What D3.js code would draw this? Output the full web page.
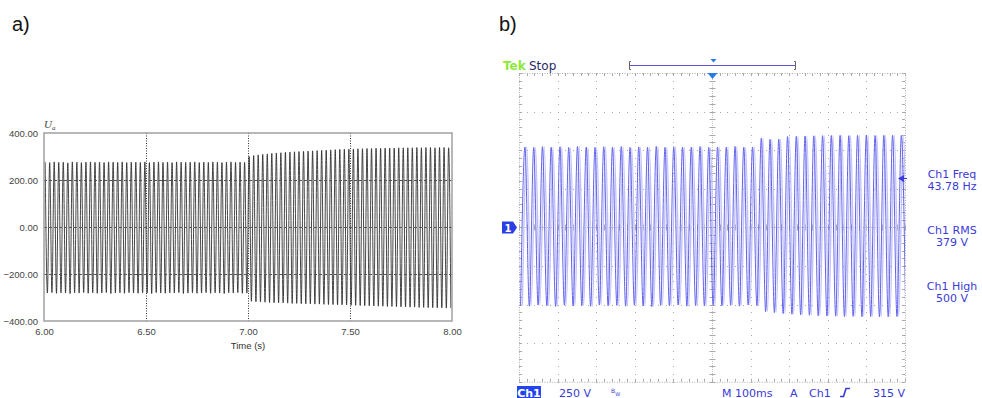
<!DOCTYPE html>
<html><head><meta charset="utf-8">
<script src="https://cdn.jsdelivr.net/npm/d3@7"></script>
<style>body{margin:0;background:#fff}svg{display:block}</style>
</head><body>
<svg id="c" width="982" height="398"></svg>
<script>
// ---------- DATA: panel a) simulated U_a ----------
const leftTimeTicks = [6.00, 6.50, 7.00, 7.50, 8.00];
const leftValueTicks = [-400, -200, 0, 200, 400];
const leftGridTimes = [6.50, 7.00, 7.50];
const leftGridValues = [-200, 0, 200];
const leftFreqHz = 45;
const leftStart = 6.0;
// positive peak of each cycle (V)
const leftPosPeaks = [
 276,274,277,275,276,273,277,276,274,276,
 277,275,276,274,277,276,275,277,274,276,
 276,275,277,274,276,277,275,276,274,277,
 276,275,276,277,274,276,275,277,276,274,
 276,277,275,276,275,
 300,304,307,309,311,313,315,316,318,319,
 320,321,322,323,324,325,326,327,328,329,
 330,331,331,332,333,333,334,334,335,335,
 336,336,336,337,337,337,337,338,337,338,
 338,337,338,338,337];
// negative peak of each cycle (V)
const leftNegPeaks = [
 -281,-279,-282,-280,-281,-283,-280,-281,-279,-282,
 -280,-282,-281,-279,-283,-281,-280,-282,-279,-281,
 -282,-280,-281,-283,-279,-281,-282,-280,-281,-279,
 -283,-281,-280,-282,-281,-279,-282,-280,-281,-283,
 -280,-281,-279,-282,-281,
 -316,-318,-319,-320,-321,-322,-323,-323,-324,-325,
 -325,-326,-327,-327,-328,-328,-329,-330,-330,-331,
 -331,-332,-333,-333,-334,-335,-335,-336,-337,-337,
 -338,-338,-339,-340,-340,-341,-341,-342,-342,-343,
 -343,-344,-344,-345,-345];

// ---------- DATA: panel b) oscilloscope ----------
const scopeTimeRangeMs = [-500, 500];   // 100 ms/div, 10 div
const scopeVoltRange = [-1000, 1000];   // 250 V/div, 8 div
const scopeFreqHz = 44.1;
const scopeStartMs = -495.9;
const scopeNegPeaks = [
 -506,-510,-503,-508,-512,-504,-509,-506,-511,-503,
 -508,-505,-510,-504,-509,-512,-505,-507,-503,-510,
 -506,-509,-504,-508,-505,-510,-503,-507,
 -545,-552,-558,-562,-566,-569,-572,-574,-575,-577,
 -576,-578,-577,-579,-578,-577,-578];
const scopePosPeaks = [
 521,518,523,519,522,517,524,520,518,522,
 520,523,517,521,519,524,518,522,520,519,
 523,518,521,520,524,519,521,
 577,570,571,588,590,592,593,594,595,596,
 594,596,597,595,596,597,596];
const scopeReadouts = [["Ch1 Freq","43.78 Hz"],["Ch1 RMS","379 V"],["Ch1 High","500 V"]];
const scopeBottomLabels = [
 {t:"250 V", x:559}, {t:"M 100ms", x:722}, {t:"A", x:790}, {t:"Ch1", x:809}, {t:"315 V", x:873}];

// ---------- DRAW ----------
const svg = d3.select("#c");

// panel labels
svg.append("text").attr("x",12).attr("y",31).text("a)")
  .attr("font-family","Liberation Sans, Arial").attr("font-size",20).attr("fill","#111");
svg.append("text").attr("x",499).attr("y",31).text("b)")
  .attr("font-family","Liberation Sans, Arial").attr("font-size",20).attr("fill","#111");

// ---- panel a ----
const L = {x0:44, x1:452, y0:133, y1:321};
const xL = d3.scaleLinear().domain([6,8]).range([L.x0, L.x1]);
const yL = d3.scaleLinear().domain([-400,400]).range([L.y1, L.y0]);

svg.append("clipPath").attr("id","clipL").append("rect")
  .attr("x",L.x0).attr("y",L.y0).attr("width",L.x1-L.x0).attr("height",L.y1-L.y0);

const leftSeries = [];
leftPosPeaks.forEach((p,i)=>{
  const per = 1/leftFreqHz;
  leftSeries.push({t:leftStart + i*per + per*0.25, v:p});
  leftSeries.push({t:leftStart + i*per + per*0.75, v:leftNegPeaks[i]});
});
const lineL = d3.line().x(d=>xL(d.t)).y(d=>yL(d.v)).curve(d3.curveMonotoneX);
svg.append("g").attr("clip-path","url(#clipL)")
  .append("path").datum(leftSeries).attr("d",lineL)
  .attr("fill","none").attr("stroke","#262626").attr("stroke-width",0.85);

// grid
const gL = svg.append("g");
gL.selectAll("line.v").data(leftGridTimes).join("line")
  .attr("x1",d=>xL(d)+0.5).attr("x2",d=>xL(d)+0.5).attr("y1",L.y0).attr("y2",L.y1)
  .attr("stroke","#333").attr("stroke-width",1).attr("stroke-dasharray","1,1.5");
gL.selectAll("line.h").data(leftGridValues).join("line")
  .attr("y1",d=>yL(d)+0.5).attr("y2",d=>yL(d)+0.5).attr("x1",L.x0).attr("x2",L.x1)
  .attr("stroke","#555").attr("stroke-width",1).attr("stroke-dasharray","3,2");
// frame
svg.append("rect").attr("x",L.x0).attr("y",L.y0).attr("width",L.x1-L.x0).attr("height",L.y1-L.y0)
  .attr("fill","none").attr("stroke","#a0a0a0").attr("stroke-width",1.5);

// axes via d3 axes (no tick lines)
const axL = svg.append("g").attr("transform",`translate(${L.x0},0)`)
  .call(d3.axisLeft(yL).tickValues(leftValueTicks).tickFormat(d3.format(".2f")).tickSize(0).tickPadding(6));
const axB = svg.append("g").attr("transform",`translate(0,${L.y1})`)
  .call(d3.axisBottom(xL).tickValues(leftTimeTicks).tickFormat(d3.format(".2f")).tickSize(0).tickPadding(7));
[axL,axB].forEach(a=>{
  a.select(".domain").remove();
  a.selectAll("text").attr("font-family","Liberation Sans, Arial").attr("font-size",9.5).attr("fill","#444");
});
svg.append("text").attr("x",248).attr("y",349).attr("text-anchor","middle").text("Time (s)")
  .attr("font-family","Liberation Sans, Arial").attr("font-size",9.5).attr("fill","#333");
const ua = svg.append("text").attr("x",44).attr("y",128)
  .attr("font-family","Liberation Serif, serif").attr("font-style","italic").attr("fill","#444");
ua.append("tspan").attr("font-size",11).text("U");
ua.append("tspan").attr("font-size",7).attr("dy",2).text("a");

// ---- panel b ----
const S = {x0:519, x1:905, y0:73, y1:381.8};
const xS = d3.scaleLinear().domain(scopeTimeRangeMs).range([S.x0, S.x1]);
const yS = d3.scaleLinear().domain(scopeVoltRange).range([S.y1, S.y0]);
const div = (S.x1-S.x0)/10, minor = div/5;
const gridCol = "#a8a8a8";
const gS = svg.append("g");

// major grid dots
for (let i=1;i<10;i++){ if(i===5) continue;
  const x = Math.round(S.x0 + i*div);
  for (let j=0;j<=40;j++){ gS.append("rect").attr("x",x).attr("y",Math.round(S.y0+j*minor)).attr("width",1).attr("height",1).attr("fill",gridCol); }
}
for (let j=1;j<8;j++){ if(j===4) continue;
  const y = Math.round(S.y0 + j*div);
  for (let i=0;i<=50;i++){ gS.append("rect").attr("x",Math.round(S.x0+i*minor)).attr("y",y).attr("width",1).attr("height",1).attr("fill",gridCol); }
}
// center lines
const cx = Math.round(xS(0))+0.5, cy = Math.round(yS(0))+0.5;
gS.append("line").attr("x1",S.x0).attr("x2",S.x1).attr("y1",cy).attr("y2",cy)
  .attr("stroke","#c4c4c4").attr("stroke-dasharray","1,1");
gS.append("line").attr("x1",cx).attr("x2",cx).attr("y1",S.y0).attr("y2",S.y1)
  .attr("stroke","#c4c4c4").attr("stroke-dasharray","1,1");
for (let i=0;i<=50;i++){ const x=Math.round(S.x0+i*minor)+0.5;
  gS.append("line").attr("x1",x).attr("x2",x).attr("y1",cy-3).attr("y2",cy+3).attr("stroke","#aaa");
  gS.append("line").attr("x1",x).attr("x2",x).attr("y1",S.y0).attr("y2",S.y0+3).attr("stroke","#aaa");
  gS.append("line").attr("x1",x).attr("x2",x).attr("y1",S.y1-3).attr("y2",S.y1).attr("stroke","#aaa");
}
for (let j=0;j<=40;j++){ const y=Math.round(S.y0+j*minor)+0.5;
  gS.append("line").attr("y1",y).attr("y2",y).attr("x1",cx-3).attr("x2",cx+3).attr("stroke","#aaa");
  gS.append("line").attr("y1",y).attr("y2",y).attr("x1",S.x0).attr("x2",S.x0+3).attr("stroke","#aaa");
  gS.append("line").attr("y1",y).attr("y2",y).attr("x1",S.x1-3).attr("x2",S.x1).attr("stroke","#aaa");
}
// border dotted
gS.append("rect").attr("x",S.x0+0.5).attr("y",S.y0+0.5).attr("width",S.x1-S.x0).attr("height",S.y1-S.y0)
  .attr("fill","none").attr("stroke","#b0b0b0").attr("stroke-dasharray","1,1.5");

// waveform
svg.append("clipPath").attr("id","clipS").append("rect")
  .attr("x",S.x0).attr("y",S.y0).attr("width",S.x1-S.x0).attr("height",S.y1-S.y0);
const halfMs = 1000/scopeFreqHz/2;
const scopeSeries = [];
scopeNegPeaks.forEach((n,i)=>{
  scopeSeries.push({t:scopeStartMs + (2*i)*halfMs, v:n});
  if (i < scopePosPeaks.length) scopeSeries.push({t:scopeStartMs + (2*i+1)*halfMs, v:scopePosPeaks[i]});
});
const lineS = d3.line().x(d=>xS(d.t)).y(d=>yS(d.v)).curve(d3.curveMonotoneX);
const gW = svg.append("g").attr("clip-path","url(#clipS)");
gW.append("path").datum(scopeSeries).attr("d",lineS).attr("transform","translate(1.8,0)")
  .attr("fill","none").attr("stroke","#c2c2f8").attr("stroke-width",1.4);
gW.append("path").datum(scopeSeries).attr("d",lineS)
  .attr("fill","none").attr("stroke","#6262ee").attr("stroke-width",1);

const blue = "#3a3ad8";
const monoF = "DejaVu Sans, Verdana, sans-serif";
// top header
svg.append("text").attr("x",503).attr("y",70).text("Tek").attr("font-family",monoF)
  .attr("font-size",12).attr("font-weight","bold").attr("fill","#8ee83a");
svg.append("text").attr("x",529).attr("y",70).text("Stop").attr("font-family",monoF)
  .attr("font-size",12).attr("fill","#2a2a6a");
svg.append("line").attr("x1",629).attr("x2",796).attr("y1",65.5).attr("y2",65.5).attr("stroke","#5a5ad8").attr("stroke-width",1.2);
svg.append("path").attr("d","M631,61.5 L629.5,61.5 L629.5,69.5 L631,69.5").attr("fill","none").attr("stroke","#666");
svg.append("path").attr("d","M794,61.5 L795.5,61.5 L795.5,69.5 L794,69.5").attr("fill","none").attr("stroke","#666");
svg.append("path").attr("d","M710.5,59 L716.5,59 L713.5,62.5 Z").attr("fill","#2a7ae8");
svg.append("path").attr("d",`M${cx-5},73 L${cx+5},73 L${cx},79 Z`).attr("fill","#2a7ae8");
// ch1 ground marker
svg.append("path").attr("d",`M502,${cy-6} L513,${cy-6} L517,${cy} L513,${cy+6} L502,${cy+6} Z`).attr("fill","#2a3ee6");
svg.append("text").attr("x",508).attr("y",cy+4).attr("text-anchor","middle").text("1")
  .attr("font-family",monoF).attr("font-size",10).attr("font-weight","bold").attr("fill","#fff");
// trigger level arrow
svg.append("path").attr("d","M898,178.5 L904,175 L904,182 Z").attr("fill","#3a3ae0");
svg.append("line").attr("x1",903).attr("x2",907).attr("y1",178.5).attr("y2",178.5).attr("stroke","#3a3ae0");

// readouts
scopeReadouts.forEach((r,i)=>{
  const y0 = 178 + i*56;
  svg.append("text").attr("x",952).attr("y",y0).attr("text-anchor","middle").text(r[0])
    .attr("font-family",monoF).attr("font-size",11).attr("fill",blue);
  svg.append("text").attr("x",952).attr("y",y0+12).attr("text-anchor","middle").text(r[1])
    .attr("font-family",monoF).attr("font-size",11).attr("fill",blue);
});
// bottom line
svg.append("rect").attr("x",517).attr("y",386).attr("width",24).attr("height",12).attr("fill","#2244ee");
svg.append("text").attr("x",529).attr("y",396.5).attr("text-anchor","middle").text("Ch1")
  .attr("font-family",monoF).attr("font-size",11).attr("font-weight","bold").attr("fill","#fff");
scopeBottomLabels.forEach(l=>{
  svg.append("text").attr("x",l.x).attr("y",396.5).text(l.t)
    .attr("font-family",monoF).attr("font-size",11).attr("fill",blue);
});
const bw = svg.append("text").attr("x",611).attr("y",393).attr("font-family",monoF).attr("fill",blue);
bw.append("tspan").attr("font-size",6).text("B");
bw.append("tspan").attr("font-size",5).attr("dy",2.5).text("W");
svg.append("path").attr("d","M840,396.5 L843.5,396.5 L846,388.5 L850,388.5").attr("fill","none")
  .attr("stroke",blue).attr("stroke-width",1.6);
</script>
</body></html>
